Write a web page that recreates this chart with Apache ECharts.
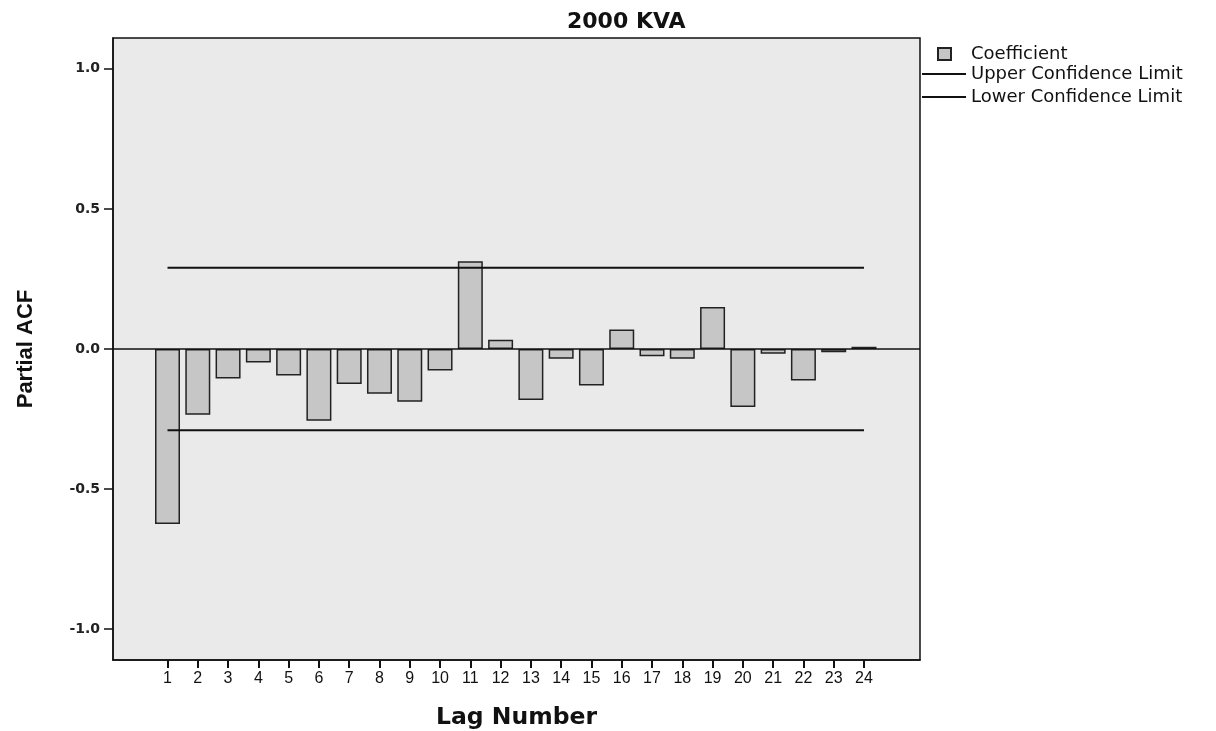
<!DOCTYPE html>
<html>
<head>
<meta charset="utf-8">
<script src="https://cdn.jsdelivr.net/npm/echarts@6/dist/echarts.min.js"></script>
<style>
  html, body { margin: 0; padding: 0; background: #ffffff; }
  #chart { width: 1216px; height: 731px; }
</style>
</head>
<body>
<div id="chart"></div>
<script>
// Partial autocorrelation of the 2000 KVA series, lags 1..24
const lags = [1, 2, 3, 4, 5, 6, 7, 8, 9, 10, 11, 12, 13, 14, 15, 16, 17, 18, 19, 20, 21, 22, 23, 24];
const coefficient = [-0.625, -0.235, -0.105, -0.048, -0.095, -0.256, -0.125, -0.160, -0.188, -0.077,
                     0.313, 0.033, -0.182, -0.035, -0.130, 0.070, -0.026, -0.035, 0.150, -0.207,
                     -0.017, -0.112, -0.012, 0.008];
const upperLimit = 0.29;
const lowerLimit = -0.29;
const yTicks = [-1, -0.5, 0, 0.5, 1];

const WIDE = '"DejaVu Sans", Verdana, sans-serif';
const ARIAL = '"Liberation Sans", Arial, sans-serif';

const chart = echarts.init(document.getElementById('chart'), null, { renderer: 'canvas' });

chart.setOption({
  animation: false,
  backgroundColor: '#ffffff',
  title: {
    text: '2000 KVA',
    left: 562,
    top: 6,
    textStyle: { fontFamily: WIDE, fontSize: 22, fontWeight: 'bold', color: '#111' }
  },
  legend: [
    {
      data: ['Coefficient'],
      orient: 'vertical',
      left: 937,
      top: 45,
      padding: 0,
      itemWidth: 13,
      itemHeight: 12,
      icon: 'rect',
      textStyle: { fontFamily: WIDE, fontSize: 18, lineHeight: 18, color: '#111', padding: [0, 0, 0, 15] },
      selectedMode: false
    },
    {
      data: ['Upper Confidence Limit', 'Lower Confidence Limit'],
      orient: 'vertical',
      left: 922,
      top: 65,
      padding: 0,
      itemWidth: 44,
      itemHeight: 2,
      itemGap: 5,
      icon: 'rect',
      textStyle: { fontFamily: WIDE, fontSize: 18, lineHeight: 18, color: '#111' },
      selectedMode: false
    }
  ],
  grid: {
    left: 113,
    right: 296,
    top: 38,
    bottom: 71,
    outerBoundsMode: 'none',
    containLabel: false,
    show: true,
    backgroundColor: '#eaeaea',
    borderColor: '#111',
    borderWidth: 1.5
  },
  xAxis: {
    type: 'value',
    min: -0.8,
    max: 25.85,
    name: 'Lag Number',
    nameLocation: 'middle',
    nameGap: 46,
    nameTextStyle: { fontFamily: WIDE, fontSize: 23.5, fontWeight: 'bold', color: '#111' },
    axisLine: { show: true, onZero: false, lineStyle: { color: '#111', width: 1.5 } },
    axisTick: { show: true, length: 8, inside: false, customValues: lags, lineStyle: { color: '#111', width: 2 } },
    axisLabel: {
      customValues: lags,
      margin: 11,
      fontFamily: ARIAL,
      fontSize: 16,
      color: '#111'
    },
    splitLine: { show: false }
  },
  yAxis: {
    type: 'value',
    min: -1.11,
    max: 1.11,
    name: 'Partial ACF',
    nameLocation: 'middle',
    nameRotate: 90,
    nameGap: 76,
    nameTextStyle: { fontFamily: ARIAL, fontSize: 22, fontWeight: 'bold', color: '#111' },
    axisLine: { show: true, onZero: false, lineStyle: { color: '#111', width: 1.5 } },
    axisTick: { show: true, length: 9, customValues: yTicks, lineStyle: { color: '#111', width: 1.5 } },
    axisLabel: {
      customValues: yTicks,
      margin: 13,
      fontFamily: WIDE,
      fontSize: 14,
      fontWeight: 'bold',
      color: '#222',
      formatter: v => v.toFixed(1)
    },
    splitLine: { show: false }
  },
  series: [
    {
      name: 'Coefficient',
      type: 'bar',
      barWidth: 25,
      data: lags.map((l, i) => [l, coefficient[i]]),
      itemStyle: { color: '#c6c6c6', borderColor: '#222', borderWidth: 1.5 },
      markLine: {
        silent: true,
        symbol: 'none',
        label: { show: false },
        lineStyle: { color: '#111', width: 1.5, type: 'solid' },
        data: [{ yAxis: 0 }]
      },
      z: 3
    },
    {
      name: 'Upper Confidence Limit',
      type: 'line',
      showSymbol: false,
      symbol: 'none',
      data: [[lags[0], upperLimit], [lags[lags.length - 1], upperLimit]],
      lineStyle: { color: '#111', width: 2 },
      itemStyle: { color: '#111' },
      z: 4
    },
    {
      name: 'Lower Confidence Limit',
      type: 'line',
      showSymbol: false,
      symbol: 'none',
      data: [[lags[0], lowerLimit], [lags[lags.length - 1], lowerLimit]],
      lineStyle: { color: '#111', width: 2 },
      itemStyle: { color: '#111' },
      z: 4
    }
  ]
});
</script>
</body>
</html>
